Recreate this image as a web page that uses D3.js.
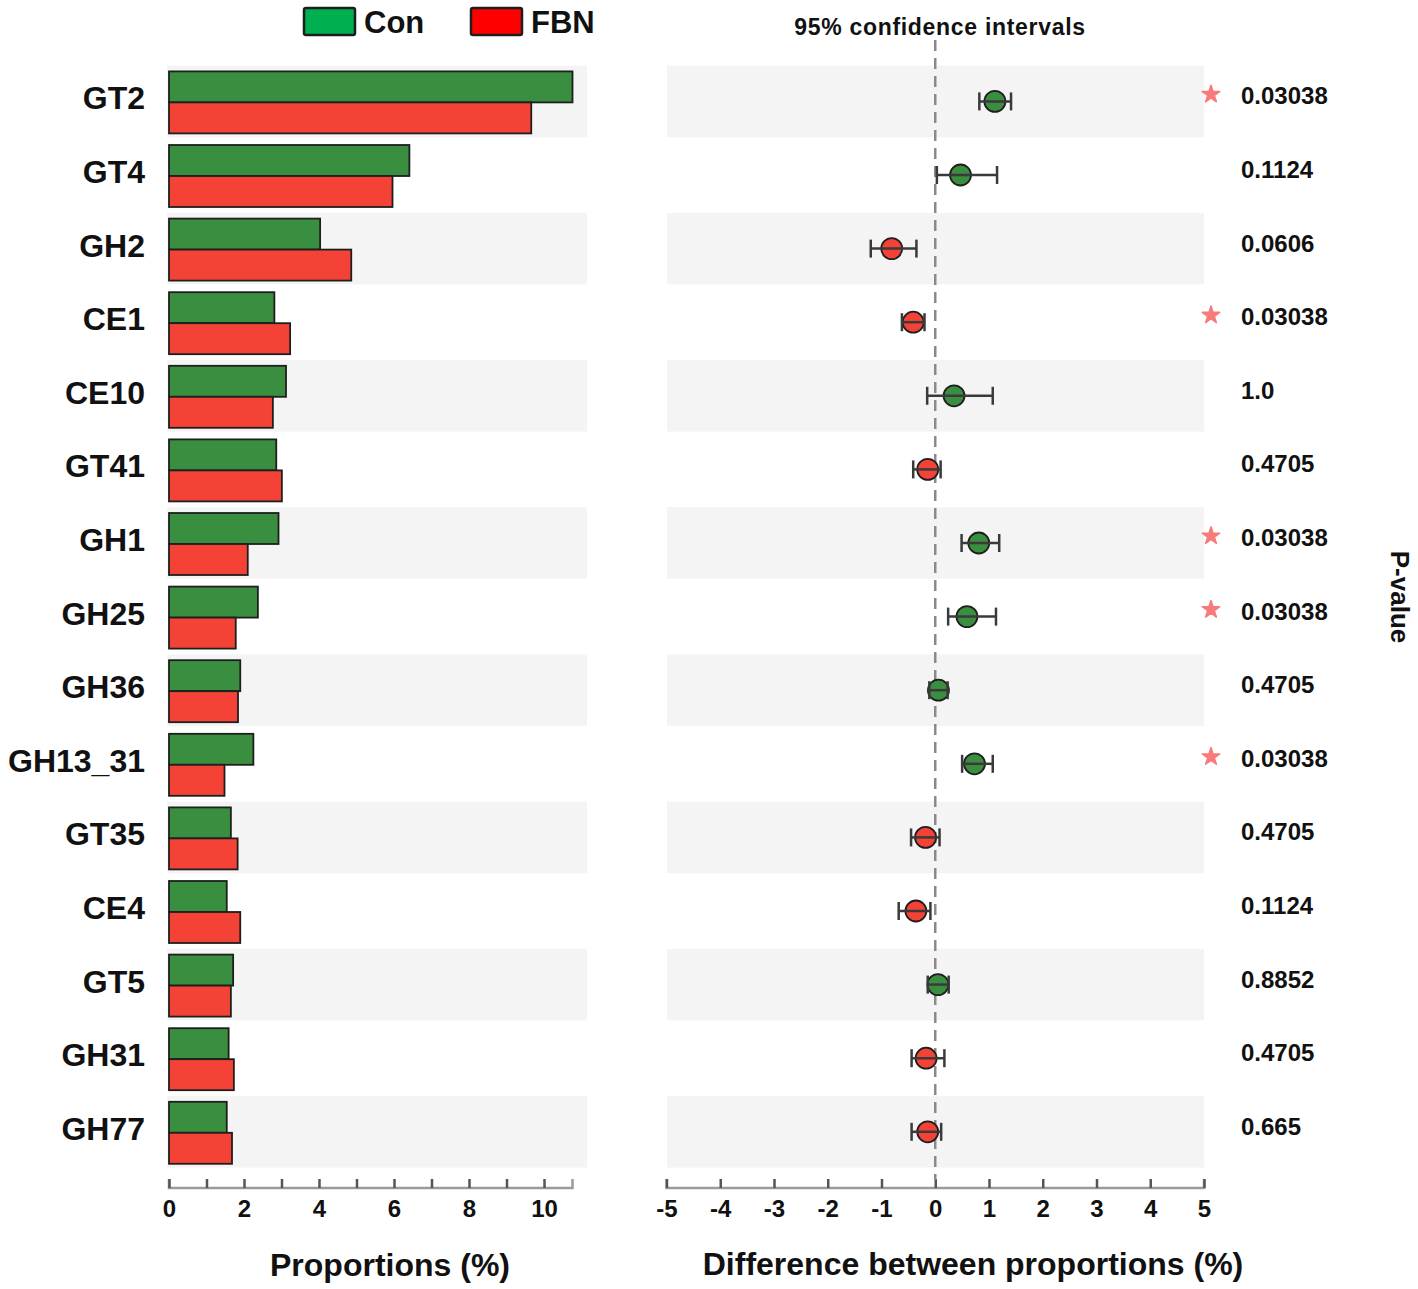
<!DOCTYPE html>
<html>
<head>
<meta charset="utf-8">
<script src="https://cdn.jsdelivr.net/npm/d3@7"></script>
<style>
  body { margin: 0; background: #fff; }
  text { font-family: "Liberation Sans", Arial, sans-serif; font-weight: bold; }
</style>
</head>
<body>
<div id="svg-area"></div>
<script>
// data
var categories = ["GT2", "GT4", "GH2", "CE1", "CE10", "GT41", "GH1", "GH25", "GH36", "GH13_31", "GT35", "CE4", "GT5", "GH31", "GH77"];
var groups = ["Con", "FBN"];
var conValues = [10.76, 6.41, 4.03, 2.81, 3.12, 2.86, 2.92, 2.37, 1.90, 2.25, 1.65, 1.54, 1.71, 1.59, 1.54];
var fbnValues = [9.66, 5.96, 4.86, 3.23, 2.77, 3.01, 2.10, 1.78, 1.84, 1.48, 1.83, 1.90, 1.65, 1.73, 1.68];
var diffMean = [1.11, 0.47, -0.81, -0.41, 0.35, -0.14, 0.81, 0.59, 0.06, 0.73, -0.18, -0.36, 0.05, -0.17, -0.14];
var diffLow = [0.82, 0.03, -1.20, -0.62, -0.15, -0.41, 0.49, 0.24, -0.11, 0.50, -0.45, -0.68, -0.14, -0.44, -0.44];
var diffHigh = [1.41, 1.15, -0.35, -0.20, 1.07, 0.10, 1.19, 1.13, 0.23, 1.07, 0.08, -0.09, 0.25, 0.17, 0.11];
var pValues = ["0.03038", "0.1124", "0.0606", "0.03038", "1.0", "0.4705", "0.03038", "0.03038", "0.4705", "0.03038", "0.4705", "0.1124", "0.8852", "0.4705", "0.665"];
var propTicks = [0, 1, 2, 3, 4, 5, 6, 7, 8, 9, 10];
var diffTicks = [-5, -4, -3, -2, -1, 0, 1, 2, 3, 4, 5];

// colours
var barColors = { Con: "#3a8e3f", FBN: "#f44336" };
var legendColors = { Con: "#00b050", FBN: "#ff0000" };

// svg container
var svgWidth = 1418;
var svgHeight = 1289;

var svg = d3.select("#svg-area")
            .append("svg")
            .attr("width", svgWidth)
            .attr("height", svgHeight);

// row scale shared by both panels
var rowTop = 65.6;
var rowPitch = 73.6;
var yScale = d3.scaleBand()
               .domain(categories)
               .range([rowTop, rowTop + rowPitch * categories.length]);
var bw = yScale.bandwidth();

// bars inside a row
var ySub = d3.scaleBand()
             .domain(groups)
             .range([(bw - 62) / 2, (bw + 62) / 2]);

// x scales
var xProp = d3.scaleLinear()
              .domain([0, d3.max(conValues.concat(fbnValues))])
              .range([169, 572.5]);
var xDiff = d3.scaleLinear()
              .domain([-5, 5])
              .range([666.5, 1204]);

var axisY = 1188;

// row shading
var leftBand = [167, 587];
var rightBand = [667, 1204];

svg.append("g").selectAll("rect")
   .data(categories.filter((d, i) => i % 2 === 0))
   .enter()
   .append("rect")
   .attr("x", leftBand[0])
   .attr("y", d => yScale(d))
   .attr("width", leftBand[1] - leftBand[0])
   .attr("height", bw - 2)
   .attr("fill", "#f4f4f4");

svg.append("g").selectAll("rect")
   .data(categories.filter((d, i) => i % 2 === 0))
   .enter()
   .append("rect")
   .attr("x", rightBand[0])
   .attr("y", d => yScale(d))
   .attr("width", rightBand[1] - rightBand[0])
   .attr("height", bw - 2)
   .attr("fill", "#f4f4f4");

// bars
var barData = [];
categories.forEach(function (c, i) {
  barData.push({ cat: c, grp: "Con", value: conValues[i] });
  barData.push({ cat: c, grp: "FBN", value: fbnValues[i] });
});

svg.append("g").selectAll(".bar")
   .data(barData)
   .enter()
   .append("rect")
   .classed("bar", true)
   .attr("x", xProp(0))
   .attr("y", d => yScale(d.cat) + ySub(d.grp))
   .attr("width", d => xProp(d.value) - xProp(0))
   .attr("height", ySub.bandwidth())
   .attr("fill", d => barColors[d.grp])
   .attr("stroke", "#1e1e1e")
   .attr("stroke-width", 1.8);

// category labels
svg.append("g").selectAll("text")
   .data(categories)
   .enter()
   .append("text")
   .attr("x", 145)
   .attr("y", d => yScale(d) + bw / 2 + 7)
   .attr("text-anchor", "end")
   .attr("font-size", 32)
   .attr("fill", "#111")
   .text(d => d);

// left axis: ticks point up, labels every 2
var propAxis = d3.axisBottom(xProp)
                 .tickValues(propTicks)
                 .tickSize(-9)
                 .tickFormat(d => d % 2 === 0 ? String(d) : "");
var gProp = svg.append("g")
               .attr("transform", `translate(0, ${axisY})`)
               .call(propAxis);

// right axis (plain hyphen for negatives)
var diffAxis = d3.axisBottom(xDiff)
                 .tickValues(diffTicks)
                 .tickSize(-9)
                 .tickFormat(d => String(d));
var gDiff = svg.append("g")
               .attr("transform", `translate(0, ${axisY})`)
               .call(diffAxis);

[gProp, gDiff].forEach(function (g) {
  g.select(".domain").remove();
  g.selectAll(".tick line")
   .attr("stroke", "#555")
   .attr("stroke-width", 2.5);
  g.selectAll(".tick text")
   .attr("y", 12)
   .attr("dy", "0.71em")
   .attr("font-size", 24)
   .attr("font-family", "Liberation Sans, Arial, sans-serif")
   .attr("font-weight", "bold")
   .attr("fill", "#111");
});

// axis lines with end ticks
gProp.insert("path", ":first-child")
     .attr("d", `M${xProp.range()[0]},-9V0H${xProp.range()[1]}V-9`)
     .attr("fill", "none")
     .attr("stroke", "#9a9a9a")
     .attr("stroke-width", 2.5);
gDiff.insert("path", ":first-child")
     .attr("d", `M${xDiff.range()[0]},-9V0H${xDiff.range()[1]}V-9`)
     .attr("fill", "none")
     .attr("stroke", "#9a9a9a")
     .attr("stroke-width", 2.5);

// zero line
svg.append("line")
   .attr("x1", xDiff(0))
   .attr("x2", xDiff(0))
   .attr("y1", 40)
   .attr("y2", axisY - 8)
   .attr("stroke", "#8a8a8a")
   .attr("stroke-width", 2.5)
   .attr("stroke-dasharray", "11,7");

// confidence intervals
var ciData = categories.map((c, i) => ({
  cat: c, mean: diffMean[i], lo: diffLow[i], hi: diffHigh[i], p: pValues[i]
}));

var ci = svg.append("g").selectAll("g")
            .data(ciData)
            .enter()
            .append("g")
            .attr("transform", d => `translate(0, ${yScale(d.cat) + bw / 2 - 1})`);

ci.append("circle")
  .attr("cx", d => xDiff(d.mean))
  .attr("cy", 0)
  .attr("r", 10.5)
  .attr("fill", d => d.mean > 0 ? barColors.Con : barColors.FBN)
  .attr("stroke", "#1e1e1e")
  .attr("stroke-width", 1.8);

ci.append("line")
  .attr("x1", d => xDiff(d.lo))
  .attr("x2", d => xDiff(d.hi))
  .attr("stroke", "#3a3a3a")
  .attr("stroke-width", 2.5);

ci.append("line")
  .attr("x1", d => xDiff(d.lo))
  .attr("x2", d => xDiff(d.lo))
  .attr("y1", -9)
  .attr("y2", 9)
  .attr("stroke", "#3a3a3a")
  .attr("stroke-width", 2.5);

ci.append("line")
  .attr("x1", d => xDiff(d.hi))
  .attr("x2", d => xDiff(d.hi))
  .attr("y1", -9)
  .attr("y2", 9)
  .attr("stroke", "#3a3a3a")
  .attr("stroke-width", 2.5);

// p-values and stars
ci.append("text")
  .attr("x", 1241)
  .attr("y", 3)
  .attr("font-size", 24)
  .attr("fill", "#111")
  .text(d => d.p);

ci.filter(d => +d.p < 0.05)
  .append("path")
  .attr("transform", "translate(1211, -7)")
  .attr("d", d3.symbol().type(d3.symbolStar).size(95))
  .attr("fill", "#f77b7b")
  .attr("stroke", "#f77b7b")
  .attr("stroke-width", 1.5)
  .attr("stroke-linejoin", "round");

// titles
svg.append("text")
   .attr("x", 940)
   .attr("y", 35)
   .attr("text-anchor", "middle")
   .attr("font-size", 23)
   .attr("letter-spacing", 0.7)
   .attr("fill", "#111")
   .text("95% confidence intervals");

svg.append("text")
   .attr("x", 390)
   .attr("y", 1276)
   .attr("text-anchor", "middle")
   .attr("font-size", 32)
   .attr("fill", "#111")
   .text("Proportions (%)");

svg.append("text")
   .attr("x", 973)
   .attr("y", 1275)
   .attr("text-anchor", "middle")
   .attr("font-size", 32)
   .attr("fill", "#111")
   .text("Difference between proportions (%)");

svg.append("text")
   .attr("transform", "translate(1391, 597) rotate(90)")
   .attr("text-anchor", "middle")
   .attr("font-size", 26)
   .attr("fill", "#111")
   .text("P-value");

// legend
var legendX = [304, 471];
var legend = svg.append("g").selectAll("g")
                .data(groups)
                .enter()
                .append("g")
                .attr("transform", (d, i) => `translate(${legendX[i]}, 8)`);

legend.append("rect")
      .attr("width", 51)
      .attr("height", 27)
      .attr("rx", 2)
      .attr("fill", d => legendColors[d])
      .attr("stroke", "#1e1e1e")
      .attr("stroke-width", 2.5);

legend.append("text")
      .attr("x", 60)
      .attr("y", 25)
      .attr("font-size", 31)
      .attr("fill", "#111")
      .text(d => d);
</script>
</body>
</html>
